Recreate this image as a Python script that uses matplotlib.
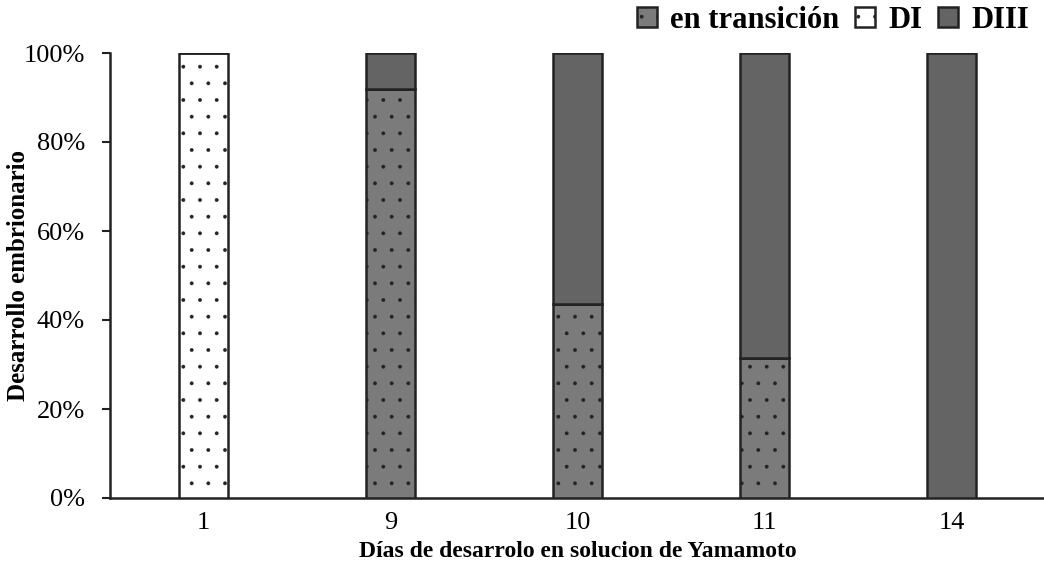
import matplotlib
matplotlib.use("Agg")
import matplotlib.pyplot as plt
import numpy as np
from matplotlib.ticker import PercentFormatter

plt.rcParams['font.family'] = ['Liberation Serif', 'DejaVu Serif']
plt.rcParams['hatch.color'] = 'black'
plt.rcParams['hatch.linewidth'] = 0.3

# Days and share of embryos per stage (%)
days = ['1', '9', '10', '11', '14']
transicion = [0, 92, 43.5, 31.5, 0]
di = [100, 0, 0, 0, 0]
diii = [0, 8, 56.5, 68.5, 100]

fig = plt.figure(figsize=(10.44, 5.73), dpi=100)
ax = fig.add_axes([110 / 1044, 75 / 573, 935 / 1044, 445 / 573])

x = np.arange(len(days))
w = 0.257
edge = '#222222'

b_tr = ax.bar(x, transicion, w, color='#7b7b7b', edgecolor=edge, linewidth=1.8,
              hatch='.', label='en transición', zorder=3)
b_di = ax.bar(x, di, w, bottom=transicion, color='white', edgecolor=edge, linewidth=1.8,
              hatch='.', label='DI', zorder=3)
bottom = np.array(transicion) + np.array(di)
b_diii = ax.bar(x, diii, w, bottom=bottom, color='#646464', edgecolor=edge, linewidth=1.8,
                label='DIII', zorder=3)

ax.set_xlim(-0.5, len(days) - 0.5)
ax.set_ylim(0, 100)
ax.set_xticks(x)
ax.set_xticklabels(days)
ax.set_yticks(np.arange(0, 101, 20))
ax.yaxis.set_major_formatter(PercentFormatter(decimals=0))
ax.tick_params(axis='y', labelsize=19, length=6, width=1.5, color=edge, pad=12)
ax.tick_params(axis='x', labelsize=19, length=0, pad=10)

for side in ['top', 'right']:
    ax.spines[side].set_visible(False)
for side in ['left', 'bottom']:
    ax.spines[side].set_linewidth(1.8)
    ax.spines[side].set_color(edge)

ax.set_xlabel('Días de desarrolo en solucion de Yamamoto', fontsize=17,
              fontweight='bold', labelpad=5)
ax.set_ylabel('Desarrollo embrionario', fontsize=18, fontweight='bold')
ax.yaxis.set_label_coords(-0.086, 0.5)

leg = fig.legend(handles=[b_tr, b_di, b_diii], loc='upper right',
                 bbox_to_anchor=(1.012, 1.038), ncol=3, frameon=False,
                 prop={'size': 22, 'weight': 'bold'},
                 handlelength=0.65, handleheight=0.65, handletextpad=0.45,
                 columnspacing=0.5)

fig.savefig('out.png', dpi=100)
